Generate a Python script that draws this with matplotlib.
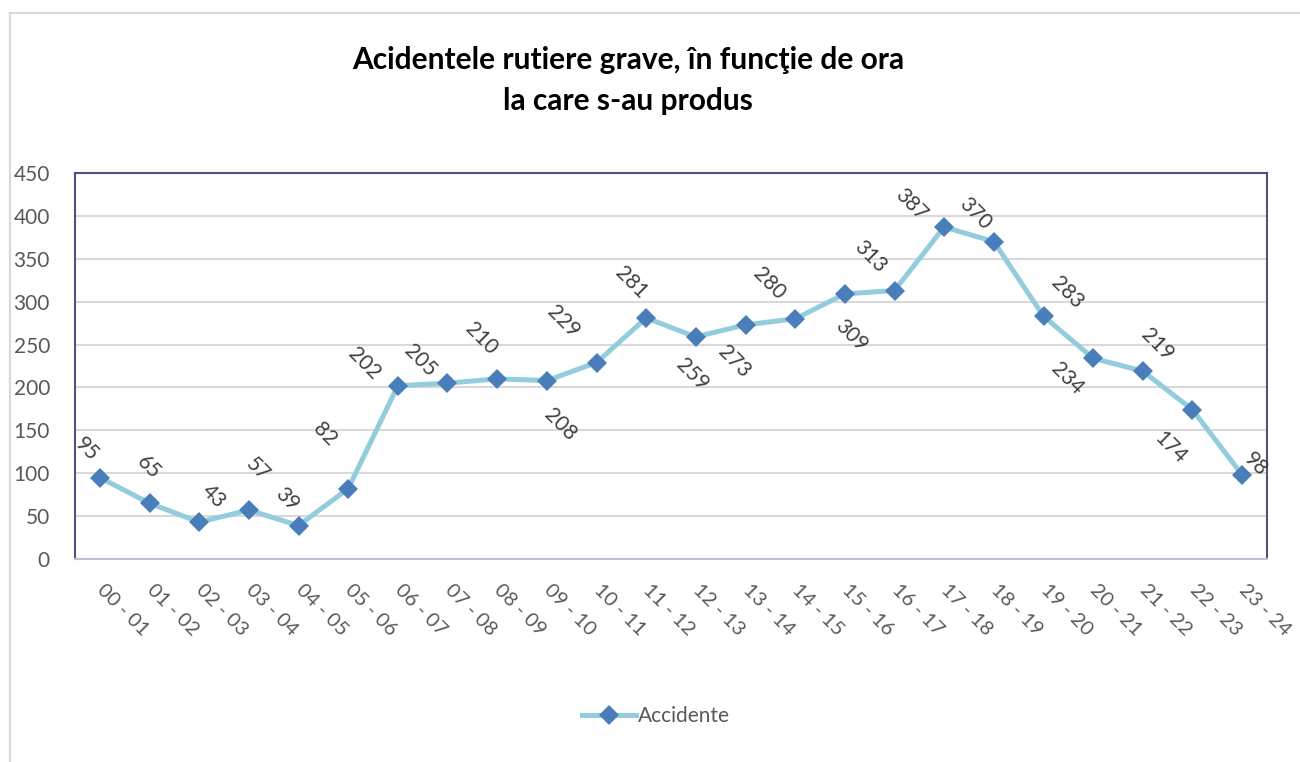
import matplotlib
matplotlib.use("Agg")
import matplotlib.pyplot as plt
from matplotlib.lines import Line2D

plt.rcParams['font.family'] = ['Lato', 'DejaVu Sans']

# data
hours = ['00 - 01', '01 - 02', '02 - 03', '03 - 04', '04 - 05', '05 - 06',
         '06 - 07', '07 - 08', '08 - 09', '09 - 10', '10 - 11', '11 - 12',
         '12 - 13', '13 - 14', '14 - 15', '15 - 16', '16 - 17', '17 - 18',
         '18 - 19', '19 - 20', '20 - 21', '21 - 22', '22 - 23', '23 - 24']
accidente = [95, 65, 43, 57, 39, 82, 202, 205, 210, 208, 229, 281,
             259, 273, 280, 309, 313, 387, 370, 283, 234, 219, 174, 98]

# label offsets (pixels, y down) from each point, as placed in the original
lbl_off = [(-13, -28), (-1, -36), (14, -26), (9, -41), (-12, -26), (-23, -54),
           (-34, -22), (-27, -23), (-16, -40), (13, 44), (-33, -41), (-15, -35),
           (-4, 38), (-11, 37), (-26, -35), (6, 42), (-24, -34), (-33, -22),
           (-19, -28), (24, -24), (-26, 20), (14, -27), (-22, 38), (13, -11)]

W, H = 1300, 762
fig = plt.figure(figsize=(W / 100, H / 100), dpi=100)
fig.patch.set_facecolor('white')

# outer chart frame (only top and left edges are visible)
fig.add_artist(Line2D([10 / W, 10 / W], [0, 1 - 13 / H], transform=fig.transFigure,
                      color='#D9D9D9', lw=1.5))
fig.add_artist(Line2D([10 / W, 1], [1 - 13 / H, 1 - 13 / H], transform=fig.transFigure,
                      color='#D9D9D9', lw=1.5))

left, right, top, bottom = 75, 1267, 173, 559
ax = fig.add_axes([left / W, 1 - bottom / H, (right - left) / W, (bottom - top) / H])

x = list(range(len(hours)))
ax.plot(x, accidente, color='#93CDDD', lw=3.6, marker='D', markersize=10,
        markerfacecolor='#4A7EBB', markeredgecolor='#4A7EBB', markeredgewidth=0,
        label='Accidente', zorder=3)

for i, v in enumerate(accidente):
    dx, dy = lbl_off[i]
    ax.annotate(str(v), (i, v), xytext=(dx * 0.72, -dy * 0.72), textcoords='offset points',
                ha='center', va='center', rotation=-45, fontsize=15, color='#404040')

ax.set_xlim(-0.5, len(hours) - 0.5)
ax.set_ylim(0, 450)
ax.set_yticks(range(0, 451, 50))
ax.yaxis.grid(True, color='#D9D9D9', lw=1.5)
ax.set_axisbelow(True)

ax.set_xticks(x)
ax.set_xticklabels(hours, rotation=-45, ha='left', va='center', rotation_mode='anchor',
                   fontsize=14.5, color='#595959')
ax.tick_params(axis='x', length=0, pad=20)
ax.tick_params(axis='y', length=0, pad=18, labelsize=15, labelcolor='#595959')

for s in ['left', 'top', 'right']:
    ax.spines[s].set_color('#604A7B')
    ax.spines[s].set_linewidth(1.5)
ax.spines['bottom'].set_color('#C4BED2')
ax.spines['bottom'].set_linewidth(1.5)

fig.text(628 / W, 1 - 60 / H, 'Acidentele rutiere grave, în funcţie de ora',
         ha='center', va='center', fontsize=21.5, fontweight='bold', color='#000000')
fig.text(628 / W, 1 - 101 / H, 'la care s-au produs',
         ha='center', va='center', fontsize=21.5, fontweight='bold', color='#000000')

leg = fig.legend(loc='center', bbox_to_anchor=(656 / W, 1 - 716 / H), frameon=False,
                 fontsize=15, handlelength=2.6, handletextpad=0.1)
for t in leg.get_texts():
    t.set_color('#595959')

fig.savefig('out.png', dpi=100)
